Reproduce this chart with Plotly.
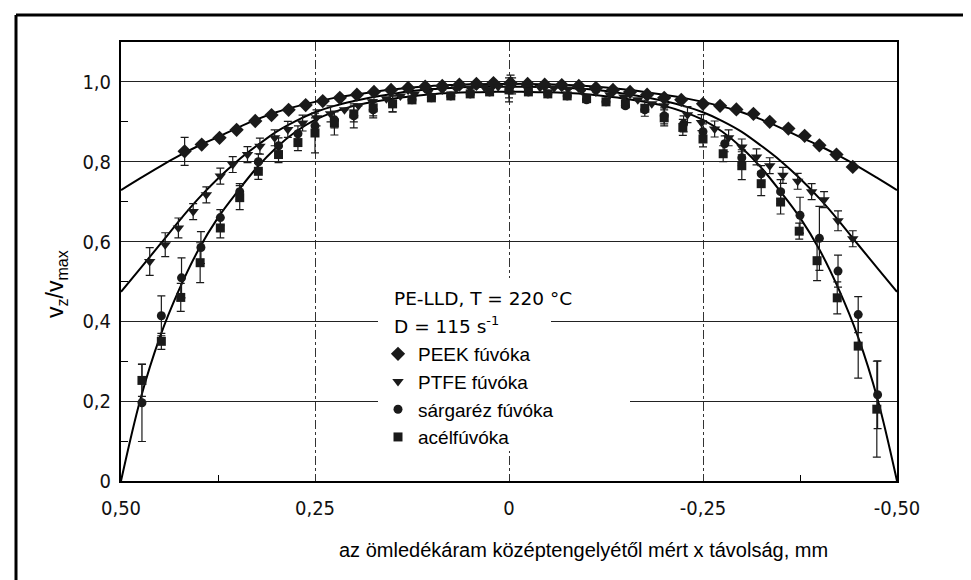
import plotly.graph_objects as go

# ---------------- data ----------------
# PEEK nozzle (diamonds)
peek_x = [0.418, 0.396, 0.373, 0.351, 0.327, 0.306, 0.284, 0.262, 0.240, 0.218, 0.196, 0.174,
          0.152, 0.130, 0.108, 0.086, 0.064, 0.042, 0.020, -0.002, -0.024, -0.046, -0.068,
          -0.090, -0.112, -0.134, -0.156, -0.178, -0.200, -0.222, -0.250, -0.272, -0.293,
          -0.315, -0.336, -0.360, -0.381, -0.400, -0.422, -0.443]
peek_y = [0.826, 0.843, 0.860, 0.880, 0.902, 0.917, 0.930, 0.942, 0.952, 0.960, 0.968, 0.975,
          0.980, 0.985, 0.988, 0.990, 0.993, 0.995, 0.997, 0.997, 0.995, 0.993, 0.992,
          0.990, 0.985, 0.980, 0.975, 0.968, 0.960, 0.955, 0.945, 0.940, 0.931,
          0.920, 0.900, 0.883, 0.865, 0.841, 0.818, 0.787]
peek_err = [0.035, 0, 0, 0, 0, 0, 0, 0, 0, 0, 0, 0,
            0, 0, 0, 0, 0, 0, 0, 0.02, 0, 0, 0,
            0, 0, 0, 0, 0, 0, 0, 0, 0, 0,
            0, 0, 0, 0, 0, 0, 0]

# PTFE nozzle (down triangles)
ptfe_x = [0.463, 0.443, 0.426, 0.407, 0.390, 0.372, 0.356, 0.337, 0.321, 0.302, 0.285, 0.266,
          0.248, 0.230, 0.212, 0.194, 0.176, 0.158, 0.140, 0.122, 0.104, 0.086, 0.068, 0.050,
          0.032, 0.014, -0.004, -0.022, -0.040, -0.058, -0.076, -0.094, -0.112, -0.130,
          -0.148, -0.166, -0.184, -0.200, -0.230, -0.248, -0.265, -0.283, -0.300, -0.319,
          -0.336, -0.353, -0.372, -0.390, -0.406, -0.424, -0.443]
ptfe_y = [0.550, 0.592, 0.634, 0.675, 0.717, 0.764, 0.793, 0.818, 0.839, 0.860, 0.881, 0.897,
          0.910, 0.920, 0.930, 0.940, 0.950, 0.958, 0.965, 0.970, 0.975, 0.980, 0.983, 0.985,
          0.987, 0.988, 0.990, 0.988, 0.986, 0.985, 0.982, 0.978, 0.975, 0.968,
          0.962, 0.955, 0.945, 0.940, 0.918, 0.898, 0.882, 0.860, 0.837, 0.812,
          0.790, 0.766, 0.751, 0.725, 0.705, 0.652, 0.607]
ptfe_err = [0.035, 0.03, 0.025, 0.02, 0.02, 0.02, 0.02, 0.02, 0.02, 0.02, 0.02, 0.02,
            0.02, 0.02, 0, 0, 0, 0, 0, 0, 0, 0, 0, 0,
            0, 0, 0.02, 0, 0, 0, 0, 0, 0, 0,
            0, 0, 0, 0, 0.02, 0.02, 0.02, 0.02, 0.02, 0.02,
            0.02, 0.02, 0.02, 0.02, 0.02, 0.025, 0.02]

# brass nozzle (circles)
brass_x = [0.473, 0.448, 0.422, 0.397, 0.372, 0.347, 0.323, 0.297, 0.272, 0.250, 0.225, 0.200,
           0.175, 0.150, 0.125, 0.100, 0.075, 0.050, 0.025, 0.000, -0.025, -0.050, -0.075,
           -0.100, -0.125, -0.150, -0.175, -0.200, -0.225, -0.250, -0.278, -0.300, -0.325,
           -0.350, -0.375, -0.400, -0.424, -0.450, -0.475]
brass_y = [0.196, 0.414, 0.509, 0.585, 0.660, 0.725, 0.800, 0.840, 0.870, 0.890, 0.905, 0.915,
           0.930, 0.945, 0.955, 0.960, 0.965, 0.970, 0.975, 0.980, 0.975, 0.970, 0.965,
           0.955, 0.950, 0.940, 0.930, 0.915, 0.895, 0.875, 0.845, 0.810, 0.770,
           0.725, 0.666, 0.608, 0.526, 0.417, 0.216]
brass_err = [0.097, 0.05, 0.05, 0.04, 0.02, 0.02, 0.02, 0.02, 0.02, 0.02, 0.02, 0.03,
             0.02, 0.02, 0, 0, 0, 0, 0, 0.03, 0, 0, 0,
             0, 0, 0, 0, 0.02, 0.02, 0.02, 0.02, 0.02, 0.02,
             0.03, 0.045, 0.08, 0.04, 0.045, 0.085]

# steel nozzle (squares)
steel_x = [0.473, 0.448, 0.423, 0.398, 0.372, 0.347, 0.323, 0.297, 0.272, 0.250, 0.225, 0.200,
           0.175, 0.150, 0.125, 0.100, 0.075, 0.050, 0.025, 0.000, -0.025, -0.050, -0.075,
           -0.100, -0.125, -0.150, -0.175, -0.200, -0.224, -0.250, -0.276, -0.300, -0.325,
           -0.350, -0.374, -0.397, -0.423, -0.450, -0.474]
steel_y = [0.252, 0.350, 0.460, 0.547, 0.634, 0.710, 0.776, 0.818, 0.848, 0.872, 0.897, 0.920,
           0.935, 0.945, 0.955, 0.960, 0.965, 0.970, 0.975, 0.980, 0.975, 0.970, 0.965,
           0.958, 0.950, 0.945, 0.934, 0.910, 0.886, 0.857, 0.820, 0.790, 0.745,
           0.699, 0.626, 0.552, 0.459, 0.338, 0.180]
steel_err = [0.04, 0.02, 0.035, 0.05, 0.025, 0.03, 0.02, 0.02, 0.02, 0.05, 0.03, 0.02,
             0.02, 0.02, 0, 0, 0, 0, 0, 0.02, 0, 0, 0,
             0, 0, 0, 0.02, 0.02, 0.02, 0.02, 0.02, 0.035, 0.03,
             0.03, 0.02, 0.05, 0.04, 0.08, 0.12]

# fitted profiles read at regular positions
curve_x = [-0.5, -0.475, -0.45, -0.425, -0.4, -0.375, -0.35, -0.325, -0.3, -0.275, -0.25,
           -0.225, -0.2, -0.175, -0.15, -0.125, -0.1, -0.075, -0.05, -0.025, 0.0,
           0.025, 0.05, 0.075, 0.1, 0.125, 0.15, 0.175, 0.2, 0.225, 0.25, 0.275, 0.3,
           0.325, 0.35, 0.375, 0.4, 0.425, 0.45, 0.475, 0.5]
peek_half = [0.729, 0.759, 0.788, 0.815, 0.840, 0.862, 0.885, 0.906, 0.924, 0.938, 0.950,
             0.960, 0.968, 0.975, 0.981, 0.986, 0.990, 0.992, 0.994, 0.995, 0.995]
ptfe_half = [0.474, 0.533, 0.592, 0.652, 0.708, 0.758, 0.802, 0.840, 0.875, 0.902, 0.924,
             0.940, 0.952, 0.962, 0.970, 0.977, 0.982, 0.985, 0.987, 0.988, 0.988]
steel_half = [0.0, 0.205, 0.360, 0.480, 0.580, 0.660, 0.725, 0.785, 0.835, 0.875, 0.905,
              0.925, 0.940, 0.950, 0.958, 0.964, 0.969, 0.972, 0.974, 0.975, 0.975]
peek_curve = peek_half + peek_half[-2::-1]
ptfe_curve = ptfe_half + ptfe_half[-2::-1]
steel_curve = steel_half + steel_half[-2::-1]

x_tickvals = [0.5, 0.25, 0, -0.25, -0.5]
x_ticktext = ["0,50", "0,25", "0", "-0,25", "-0,50"]
y_tickvals = [0, 0.2, 0.4, 0.6, 0.8, 1.0]
y_ticktext = ["0", "0,2", "0,4", "0,6", "0,8", "1,0"]

names = ["PEEK fúvóka", "PTFE fúvóka", "sárgaréz fúvóka", "acélfúvóka"]

# ---------------- figure ----------------
W, H = 971, 580
L, R, T, B = 113, 82, 34, 107
PW, PH = W - L - R, H - T - B


def px(xp):
    return (xp - L) / PW


def py(yp):
    return (H - B - yp) / PH


fig = go.Figure()

for cy in (peek_curve, ptfe_curve, steel_curve):
    fig.add_trace(go.Scatter(x=curve_x, y=cy, mode="lines", line=dict(color="black", width=2, shape="spline"),
                             showlegend=False, hoverinfo="skip"))

series = [
    (peek_x, peek_y, peek_err, "diamond", 11),
    (ptfe_x, ptfe_y, ptfe_err, "triangle-down", 10),
    (brass_x, brass_y, brass_err, "circle", 9),
    (steel_x, steel_y, steel_err, "square", 9),
]
for (sx, sy, se, sym, sz), nm in zip(series, names):
    fig.add_trace(go.Scatter(
        x=sx, y=sy, mode="markers", name=nm,
        marker=dict(symbol=sym, size=sz, color="#1a1a1a"),
        error_y=dict(type="data", array=se, visible=True, color="#1a1a1a", thickness=1.2, width=4),
    ))

tick_font = dict(family="DejaVu Sans Condensed, DejaVu Sans, sans-serif", size=20, color="#111")

fig.update_layout(
    width=W, height=H,
    margin=dict(l=L, r=R, t=T, b=B),
    paper_bgcolor="white", plot_bgcolor="white",
    font=dict(family="Liberation Sans, Arial, sans-serif", color="black"),
    xaxis=dict(range=[0.5, -0.5], tickvals=x_tickvals, ticktext=x_ticktext, tickfont=tick_font,
               showline=True, mirror=True, linecolor="black", linewidth=2,
               showgrid=True, gridcolor="#333", gridwidth=1, griddash="dashdot",
               ticks="", ticklabelstandoff=8, zeroline=False,
               minor=dict(tickvals=[0.375, -0.375], ticks="inside", ticklen=6, tickcolor="black",
                          showgrid=False)),
    yaxis=dict(range=[0, 1.10], tickvals=y_tickvals, ticktext=y_ticktext, tickfont=tick_font,
               showline=True, mirror=True, linecolor="black", linewidth=2,
               showgrid=True, gridcolor="#222", gridwidth=1.3,
               ticks="", ticklabelstandoff=4, zeroline=False,
               minor=dict(tickvals=[0.1, 0.3, 0.5, 0.7, 0.9], ticks="inside", ticklen=7,
                          tickcolor="black", showgrid=False)),
    legend=dict(x=px(370), y=py(327), xanchor="left", yanchor="top", bgcolor="rgba(0,0,0,0)",
                font=dict(family="Liberation Sans, Arial, sans-serif", size=19, color="black"),
                itemclick=False, tracegroupgap=0),
    showlegend=True,
)

# white boxes behind the legend texts (no data lie inside them)
fig.add_shape(type="rect", xref="paper", yref="paper", x0=px(370), x1=px(622), y0=py(443), y1=py(332),
              fillcolor="white", line=dict(width=0), layer="above")
fig.add_shape(type="rect", xref="paper", yref="paper", x0=px(370), x1=px(543), y0=py(333), y1=py(270),
              fillcolor="white", line=dict(width=0), layer="above")

# header of the legend box
fig.add_annotation(xref="paper", yref="paper", x=px(384), y=py(290), xanchor="left", yanchor="middle",
                   text="PE-LLD, T = 220 °C", showarrow=False,
                   font=dict(family="DejaVu Sans, sans-serif", size=18.5, color="black"))
fig.add_annotation(xref="paper", yref="paper", x=px(384), y=py(317), xanchor="left", yanchor="middle",
                   text="D = 115 s<sup>-1</sup>", showarrow=False,
                   font=dict(family="DejaVu Sans, sans-serif", size=18.5, color="black"))

# axis titles
fig.add_annotation(xref="paper", yref="paper", x=px(575), y=py(542), xanchor="center",
                   yanchor="middle", text="az ömledékáram középtengelyétől mért x távolság, mm",
                   showarrow=False, font=dict(size=20, color="black"))
fig.add_annotation(xref="paper", yref="paper", x=px(48), y=py(276),
                   xanchor="center", yanchor="middle", textangle=-90,
                   text="v<sub>z</sub>/v<sub>max</sub>", showarrow=False,
                   font=dict(size=23, color="black"))

# outer frame (left and top edges)
fig.add_shape(type="line", xref="paper", yref="paper", x0=px(8), x1=px(8),
              y0=py(7), y1=py(H), line=dict(color="black", width=3))
fig.add_shape(type="line", xref="paper", yref="paper", x0=px(8), x1=px(W),
              y0=py(7), y1=py(7), line=dict(color="black", width=3))

fig.write_html("out.html")
